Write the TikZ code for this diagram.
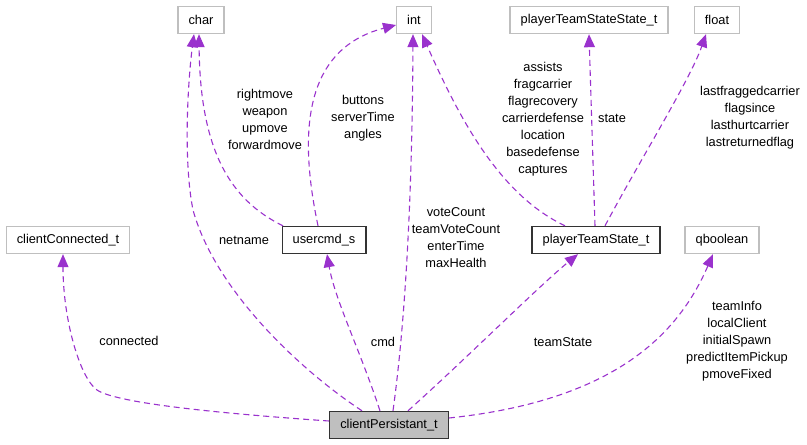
\documentclass[tikz,border=0pt]{standalone}
\usepackage{fontspec}
\setmainfont{Liberation Sans}
\usepackage{xcolor}
\usepackage{tikz}
\usetikzlibrary{arrows.meta}

\definecolor{linkpurple}{HTML}{9A32CD}
\definecolor{boxgrey}{HTML}{BFBFBF}

\begin{document}
\begin{tikzpicture}[
  x=1pt, y=-1pt,
  box/.style={rectangle, draw=boxgrey, line width=1.4pt, fill=white, font=\fontsize{12.8}{17}\selectfont, minimum height=27pt, inner xsep=10.5pt, inner ysep=0pt},
  known/.style={box, draw=black!80},
  main/.style={box, draw=black!80, fill=boxgrey},
  link/.style={draw=linkpurple, line width=1.1pt, dash pattern=on 6pt off 4pt, -{Triangle[length=13pt,width=11pt]}},
  lbl/.style={align=center, font=\fontsize{12.8}{17}\selectfont, inner sep=0pt}
]
  \useasboundingbox (0,0) rectangle (807,445);

  % top row
  \node[box] (char) at (201,20) {char};
  \node[box] (int) at (414,20) {int};
  \node[box] (stateenum) at (589,20) {playerTeamStateState\_t};
  \node[box] (float) at (717,20) {float};

  % middle row
  \node[box] (connected) at (68,240) {clientConnected\_t};
  \node[known] (usercmd) at (324,240) {usercmd\_s};
  \node[known] (teamstate) at (596,240) {playerTeamState\_t};
  \node[box] (qboolean) at (722,240) {qboolean};

  \node[main] (persist) at (389,425) {clientPersistant\_t};

  % members of clientPersistant_t
  \draw[link] ([yshift=4pt]persist.west) .. controls (200,412) and (115,402) .. (97,390)
    .. controls (80,378) and (63,320) .. ([xshift=-5pt]connected.south);
  \draw[link] ([xshift=-27pt]persist.north) .. controls (300,370) and (215,290) .. (193,210)
    .. controls (183,160) and (188,80) .. ([xshift=-7pt]char.south);
  \draw[link] ([xshift=-9pt]persist.north) .. controls (360,350) and (335,300) .. ([xshift=3pt]usercmd.south);
  \draw[link] ([xshift=4pt]persist.north) .. controls (400,360) and (412,250) .. ([xshift=-1pt]int.south);
  \draw[link] ([xshift=19pt]persist.north) .. controls (470,355) and (540,285) .. ([xshift=-18pt]teamstate.south);
  \draw[link] ([yshift=7pt]persist.east) .. controls (620,400) and (680,330) .. ([xshift=-9pt]qboolean.south);

  % members of usercmd_s
  \draw[link] ([xshift=-41pt]usercmd.north) .. controls (230,200) and (200,150) .. ([xshift=-2pt]char.south);
  \draw[link] ([xshift=-6pt]usercmd.north) .. controls (300,140) and (300,50) .. ([yshift=-5pt]int.west);

  % members of playerTeamState_t
  \draw[link] ([xshift=-31pt]teamstate.north) .. controls (500,195) and (460,120) .. ([xshift=8pt]int.south);
  \draw[link] ([xshift=-1pt]teamstate.north) -- (stateenum.south);
  \draw[link] ([xshift=9pt]teamstate.north) .. controls (640,160) and (690,80) .. ([xshift=-11pt]float.south);

  % edge labels
  \node[lbl] (lconnected) at (129,341) {connected};
  \node[lbl] (lnetname) at (244,240) {netname};
  \node[lbl] (lmoves) at (265,119) {rightmove\\weapon\\upmove\\forwardmove};
  \node[lbl] (lbuttons) at (363,118) {buttons\\serverTime\\angles};
  \node[lbl] (lcmd) at (383,342) {cmd};
  \node[lbl] (lvotes) at (456,238) {voteCount\\teamVoteCount\\enterTime\\maxHealth};
  \node[lbl] (lscores) at (543,119) {assists\\fragcarrier\\flagrecovery\\carrierdefense\\location\\basedefense\\captures};
  \node[lbl] (lstate) at (612,118) {state};
  \node[lbl] (ltimes) at (750,118) {lastfraggedcarrier\\flagsince\\lasthurtcarrier\\lastreturnedflag};
  \node[lbl] (lteamstate) at (563,342) {teamState};
  \node[lbl] (lflags) at (737,341) {teamInfo\\localClient\\initialSpawn\\predictItemPickup\\pmoveFixed};
\end{tikzpicture}
\end{document}
